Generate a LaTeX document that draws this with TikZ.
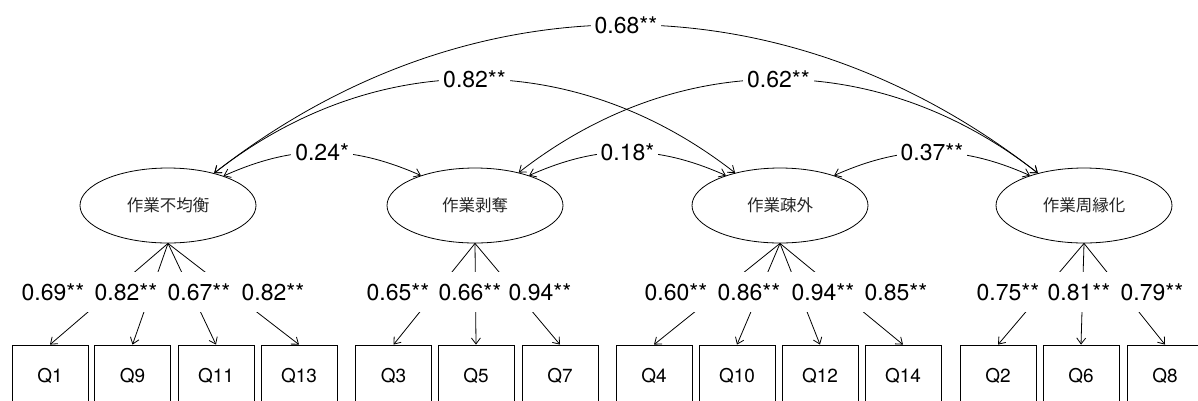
\documentclass[tikz,border=0pt]{standalone}
\usepackage{fontspec}
\setmainfont{TeX Gyre Heros}
\newfontfamily\jpfont{Noto Sans CJK JP}
\usetikzlibrary{arrows.meta,shapes.geometric}

\begin{document}
\begin{tikzpicture}[x=1pt, y=-1pt, >={Straight Barb[length=6pt,width=9pt]}, line width=0.8pt,
    factor/.style={draw, ellipse, minimum width=176pt, minimum height=75pt, inner sep=0pt,
        font=\jpfont\fontsize{16.5}{18}\selectfont, text=black!85},
    item/.style={draw, rectangle, minimum width=76pt, minimum height=62pt, inner sep=0pt,
        font=\fontsize{19}{22}\selectfont},
    coef/.style={fill=white, inner sep=0pt, minimum width=74pt, minimum height=40pt,
        font=\fontsize{23}{26}\selectfont},
    cov/.style={fill=white, inner sep=4pt, font=\fontsize{23}{26}\selectfont}]
    \useasboundingbox (0,0) rectangle (1198,400);
    % latent factors
    \node[factor] (f1) at (168,205.5) {作業不均衡};
    \node[factor] (f2) at (475,205.5) {作業剥奪};
    \node[factor] (f3) at (780,205.5) {作業疎外};
    \node[factor] (f4) at (1084,205.5) {作業周縁化};
    % observed items
    \foreach \q/\x in {1/50, 9/132.5, 11/216, 13/299}
        \node[item] (q\q) at (\x,376) {Q\q};
    \foreach \q/\x in {3/393.5, 5/476, 7/560}
        \node[item] (q\q) at (\x,376) {Q\q};
    \foreach \q/\x in {4/654, 10/737, 12/820, 14/903}
        \node[item] (q\q) at (\x,376) {Q\q};
    \foreach \q/\x in {2/998, 6/1081, 8/1165}
        \node[item] (q\q) at (\x,376) {Q\q};
    % loadings
    \foreach \q in {1,9,11,13} \draw[->] (f1.south) -- (q\q.north);
    \foreach \q in {3,5,7} \draw[->] (f2.south) -- (q\q.north);
    \foreach \q in {4,10,12,14} \draw[->] (f3.south) -- (q\q.north);
    \foreach \q in {2,6,8} \draw[->] (f4.south) -- (q\q.north);
    % loading values
    \node[coef] (l1) at (53,292) {0.69**};
    \node[coef] (l9) at (126,292) {0.82**};
    \node[coef] (l11) at (199,292) {0.67**};
    \node[coef] (l13) at (273,292) {0.82**};
    \node[coef] (l3) at (398,292) {0.65**};
    \node[coef] (l5) at (470,292) {0.66**};
    \node[coef] (l7) at (540,292) {0.94**};
    \node[coef] (l4) at (676,292) {0.60**};
    \node[coef] (l10) at (749,292) {0.86**};
    \node[coef] (l12) at (823,292) {0.94**};
    \node[coef] (l14) at (896,292) {0.85**};
    \node[coef] (l2) at (1008,292) {0.75**};
    \node[coef] (l6) at (1079,292) {0.81**};
    \node[coef] (l8) at (1152,292) {0.79**};
    % covariances
    \draw[<->] (f1.35) to[bend left=38] node[cov] (c14) {0.68**} (f4.145);
    \draw[<->] (f1.35) to[bend left=38] node[cov] (c13) {0.82**} (f3.144);
    \draw[<->] (f2.37) to[bend left=38] node[cov] (c24) {0.62**} (f4.145);
    \draw[<->] (f1.28) to[bend left=24] node[cov] (c12) {0.24*} (f2.151);
    \draw[<->] (f2.29) to[bend left=24] node[cov] (c23) {0.18*} (f3.151);
    \draw[<->] (f3.29) to[bend left=24] node[cov] (c34) {0.37**} (f4.151);
\end{tikzpicture}
\end{document}
